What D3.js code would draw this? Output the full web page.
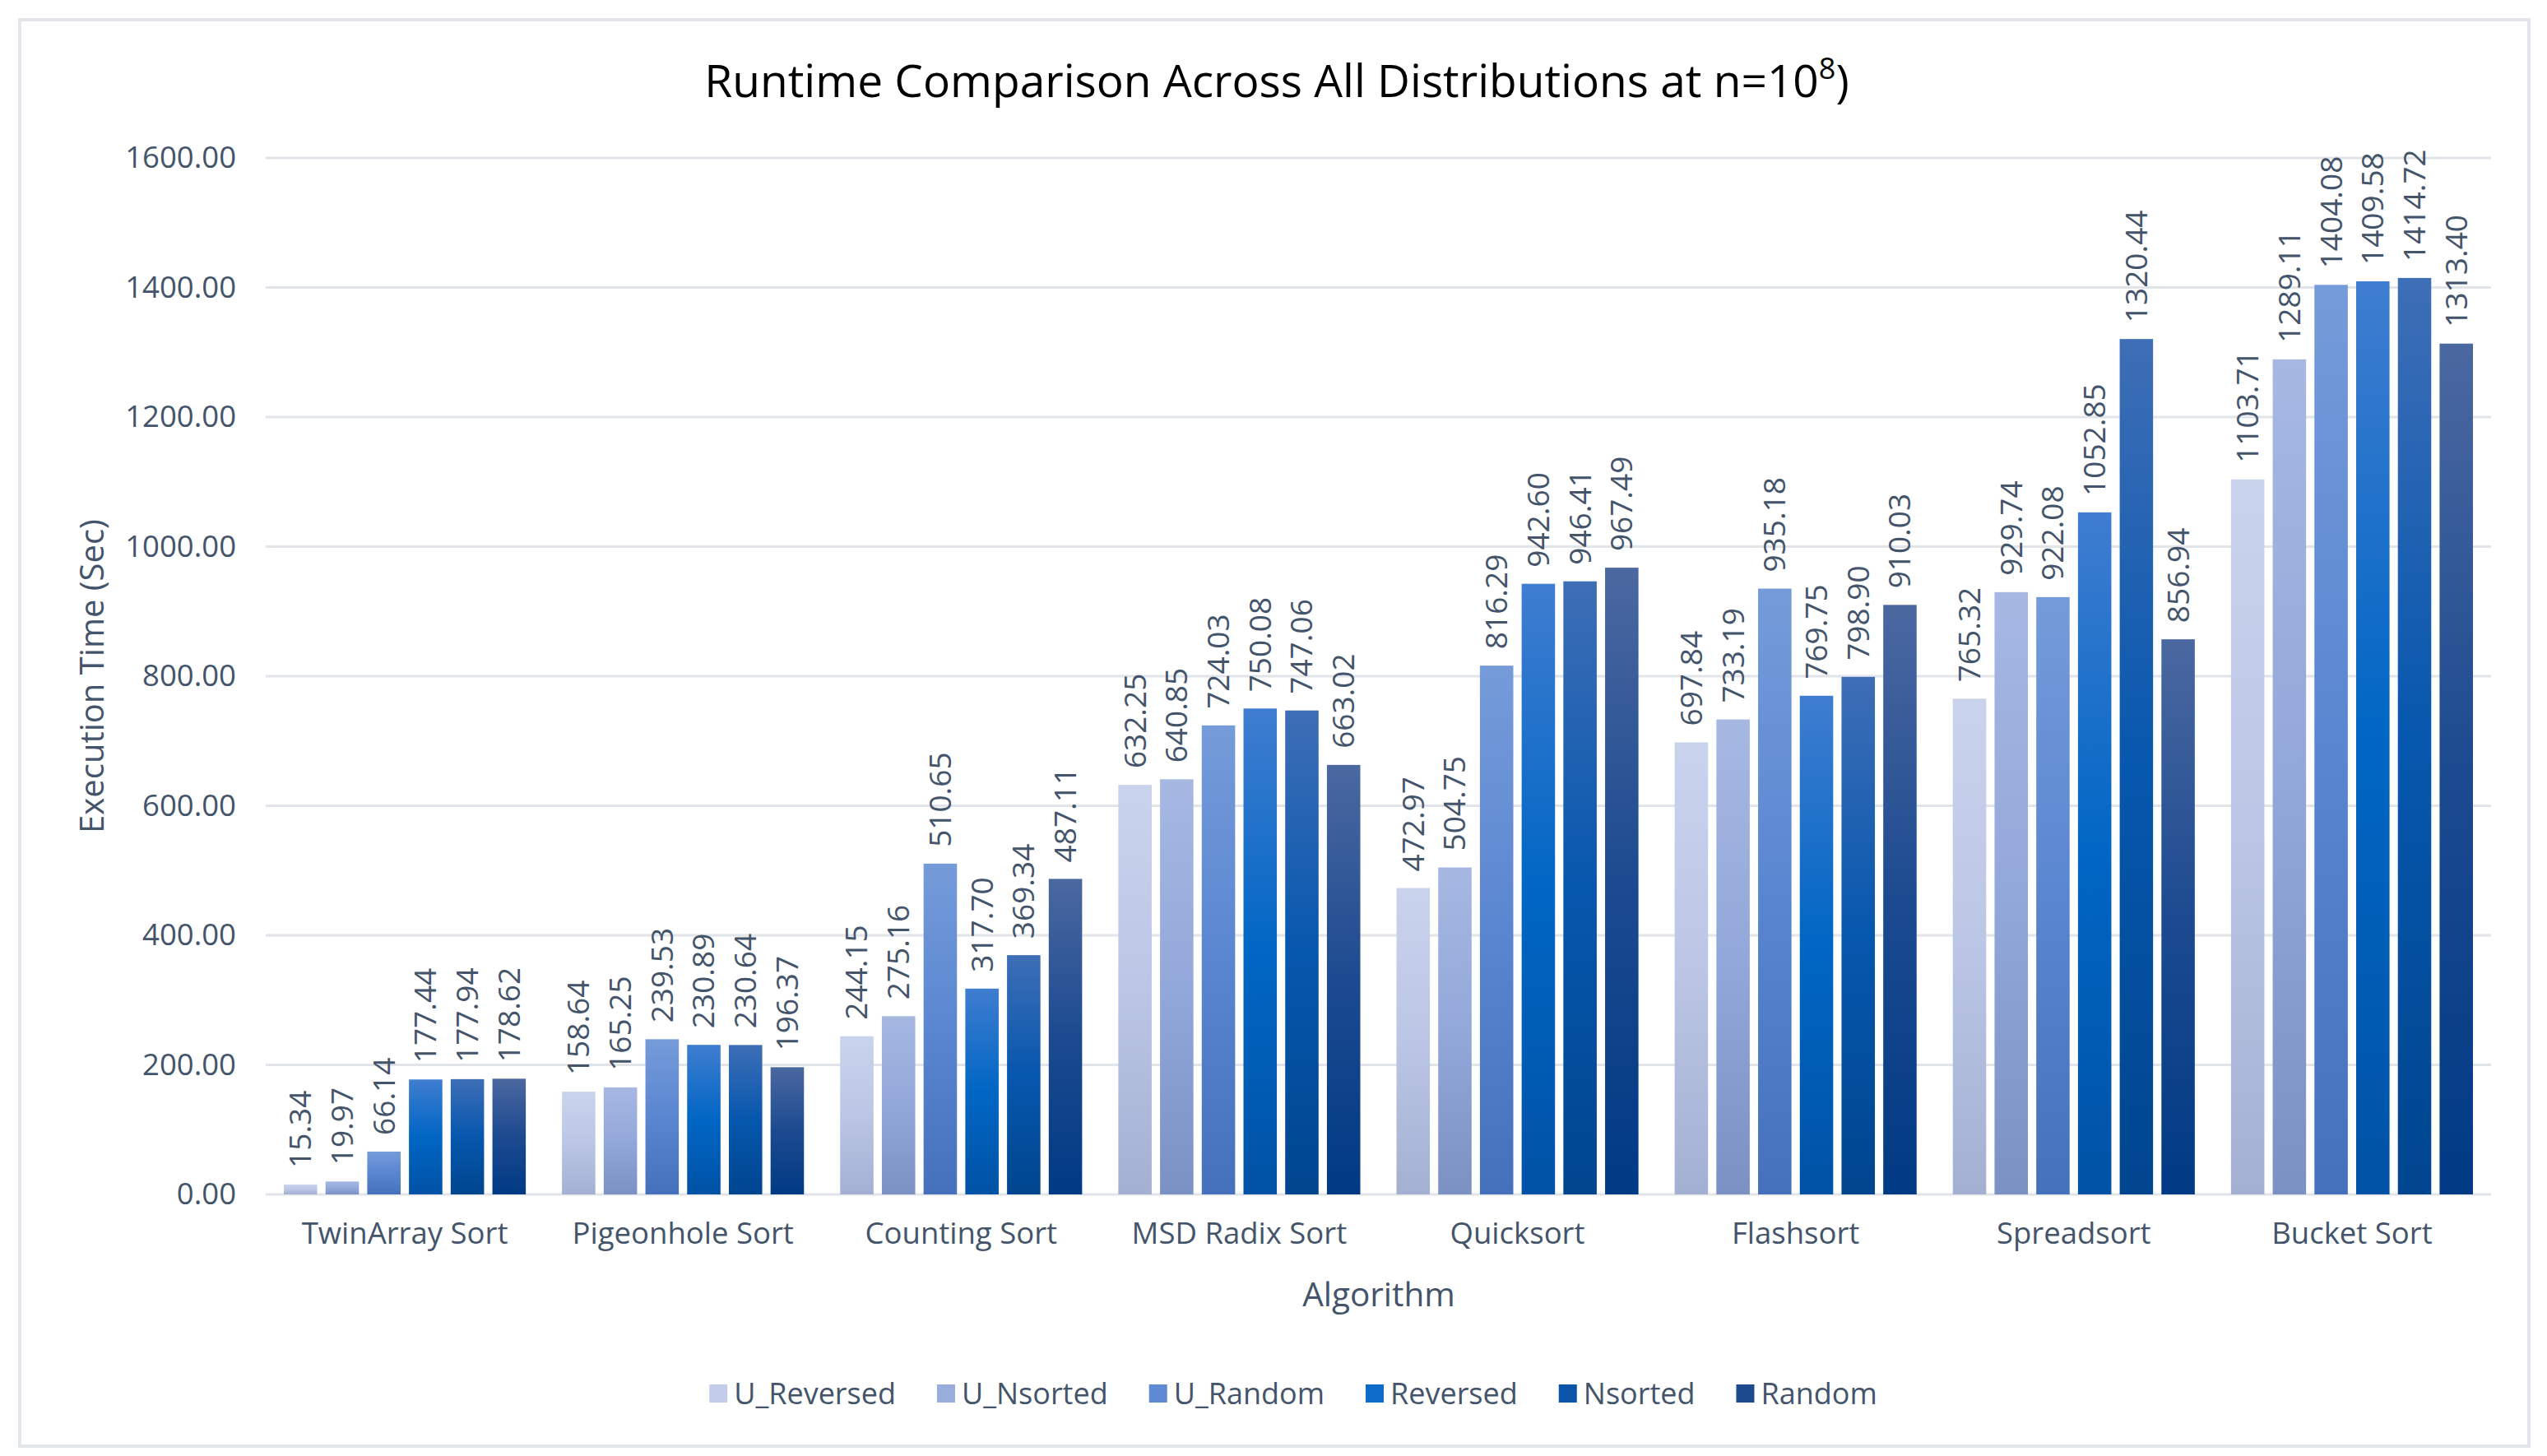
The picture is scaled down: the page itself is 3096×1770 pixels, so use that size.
<!DOCTYPE html>
<html>
<head>
<meta charset="utf-8">
<script src="https://cdn.jsdelivr.net/npm/d3@7"></script>
<style>
  html, body { margin: 0; padding: 0; background: #fff; }
  svg { display: block; }
</style>
</head>
<body>
<svg id="chart" width="3096" height="1770"></svg>
<script>
const categories = ["TwinArray Sort", "Pigeonhole Sort", "Counting Sort", "MSD Radix Sort", "Quicksort", "Flashsort", "Spreadsort", "Bucket Sort"];
const seriesNames = ["U_Reversed", "U_Nsorted", "U_Random", "Reversed", "Nsorted", "Random"];
const U_Reversed = [15.34, 158.64, 244.15, 632.25, 472.97, 697.84, 765.32, 1103.71];
const U_Nsorted  = [19.97, 165.25, 275.16, 640.85, 504.75, 733.19, 929.74, 1289.11];
const U_Random   = [66.14, 239.53, 510.65, 724.03, 816.29, 935.18, 922.08, 1404.08];
const Reversed   = [177.44, 230.89, 317.70, 750.08, 942.60, 769.75, 1052.85, 1409.58];
const Nsorted    = [177.94, 230.64, 369.34, 747.06, 946.41, 798.90, 1320.44, 1414.72];
const Random     = [178.62, 196.37, 487.11, 663.02, 967.49, 910.03, 856.94, 1313.40];
const yTicks = [0, 200, 400, 600, 800, 1000, 1200, 1400, 1600];

const seriesValues = [U_Reversed, U_Nsorted, U_Random, Reversed, Nsorted, Random];
// gradient stops per series: top, middle, bottom
const gradStops = [
  ["#CAD3EC", "#BBC6E6", "#A4B0D2"],
  ["#A6B8E2", "#93A8DA", "#7B90C3"],
  ["#759BD9", "#5A86D1", "#4570BC"],
  ["#3F7DD0", "#0066C4", "#0052A5"],
  ["#3E6EB6", "#0657AE", "#00458E"],
  ["#4B68A0", "#1C4A90", "#003A84"]
];
const legendColors = ["#C3CDEA", "#9AAEDD", "#5F89D3", "#0F6BCA", "#0A55AA", "#1C4A8F"];

const textColor = "#44546A";
const fontFam = "'Open Sans', 'Noto Sans', sans-serif";

const svg = d3.select("#chart");

// outer border
svg.append("rect").attr("x", 24).attr("y", 24).attr("width", 3050).attr("height", 1734)
  .attr("fill", "#fff").attr("stroke", "#E2E5EA").attr("stroke-width", 4);

const defs = svg.append("defs");
gradStops.forEach((g, i) => {
  const lg = defs.append("linearGradient").attr("id", "grad" + i)
    .attr("x1", 0).attr("y1", 0).attr("x2", 0).attr("y2", 1);
  lg.append("stop").attr("offset", "0%").attr("stop-color", g[0]);
  lg.append("stop").attr("offset", "50%").attr("stop-color", g[1]);
  lg.append("stop").attr("offset", "100%").attr("stop-color", g[2]);
});

const x0 = d3.scaleBand().domain(categories).range([323, 3028]).paddingInner(0).paddingOuter(0);
const x1 = d3.scaleBand().domain(seriesNames).range([22, x0.bandwidth() - 22]).paddingInner(0.2).paddingOuter(0);
const y = d3.scaleLinear().domain([0, 1600]).range([1452, 192]);

// gridlines
const grid = svg.append("g").attr("class", "grid");
grid.selectAll("line").data(yTicks).enter().append("line")
  .attr("x1", 323).attr("x2", 3028)
  .attr("y1", d => y(d)).attr("y2", d => y(d))
  .attr("stroke", "#E1E4E9").attr("stroke-width", 3);

// y axis
const yAxis = d3.axisLeft(y).tickValues(yTicks).tickFormat(d3.format(".2f")).tickSize(0).tickPadding(36);
const yg = svg.append("g").attr("transform", "translate(323,0)").call(yAxis);
yg.select(".domain").remove();
yg.selectAll("text").attr("fill", textColor).attr("font-size", 36.5).attr("font-family", fontFam);

// x axis
const xAxis = d3.axisBottom(x0).tickSize(0).tickPadding(34);
const xg = svg.append("g").attr("transform", "translate(0,1452)").call(xAxis);
xg.select(".domain").remove();
xg.selectAll("text").attr("fill", textColor).attr("font-size", 36.5).attr("font-family", fontFam);

// bars
const groups = svg.append("g").selectAll("g").data(categories).enter().append("g")
  .attr("transform", d => `translate(${x0(d)},0)`);

groups.each(function(cat, ci) {
  const g = d3.select(this);
  const rows = seriesNames.map((s, si) => ({ s, si, v: seriesValues[si][ci] }));
  g.selectAll("rect").data(rows).enter().append("rect")
    .attr("x", d => x1(d.s))
    .attr("width", x1.bandwidth())
    .attr("y", d => y(d.v))
    .attr("height", d => y(0) - y(d.v))
    .attr("fill", d => `url(#grad${d.si})`);
  g.selectAll("text.lbl").data(rows).enter().append("text").attr("class", "lbl")
    .attr("transform", d => `translate(${x1(d.s) + x1.bandwidth() / 2},${y(d.v) - 20}) rotate(-90)`)
    .attr("dy", "0.35em")
    .attr("text-anchor", "start")
    .attr("fill", textColor).attr("font-size", 37).attr("font-family", fontFam)
    .text(d => d3.format(".2f")(d.v));
});

// title
const title = svg.append("text").attr("x", 1552).attr("y", 118).attr("text-anchor", "middle")
  .attr("font-size", 55).attr("font-family", fontFam).attr("fill", "#000");
title.append("tspan").text("Runtime Comparison Across All Distributions at n=10");
title.append("tspan").attr("dy", -22).attr("font-size", 36).text("8");
title.append("tspan").attr("dy", 22).text(")");

// axis titles
svg.append("text").attr("x", 1676).attr("y", 1588).attr("text-anchor", "middle")
  .attr("font-size", 40.5).attr("font-family", fontFam).attr("fill", textColor).text("Algorithm");
svg.append("text").attr("transform", "translate(126,822) rotate(-90)").attr("text-anchor", "middle")
  .attr("font-size", 40).attr("font-family", fontFam).attr("fill", textColor).text("Execution Time (Sec)");

// legend
const legend = svg.append("g");
const items = legend.selectAll("g").data(seriesNames).enter().append("g");
items.append("rect").attr("width", 22).attr("height", 22).attr("y", -11)
  .attr("fill", (d, i) => legendColors[i]);
items.append("text").attr("x", 30).attr("dy", "0.35em")
  .attr("font-size", 36).attr("font-family", fontFam).attr("fill", textColor).text(d => d);
let widths = [];
items.each(function() { widths.push(30 + d3.select(this).select("text").node().getComputedTextLength()); });
const gap = 50;
const total = d3.sum(widths) + gap * (widths.length - 1);
let cx = 1572 - total / 2;
items.attr("transform", (d, i) => { const t = `translate(${cx},1694)`; cx += widths[i] + gap; return t; });
</script>
</body>
</html>
